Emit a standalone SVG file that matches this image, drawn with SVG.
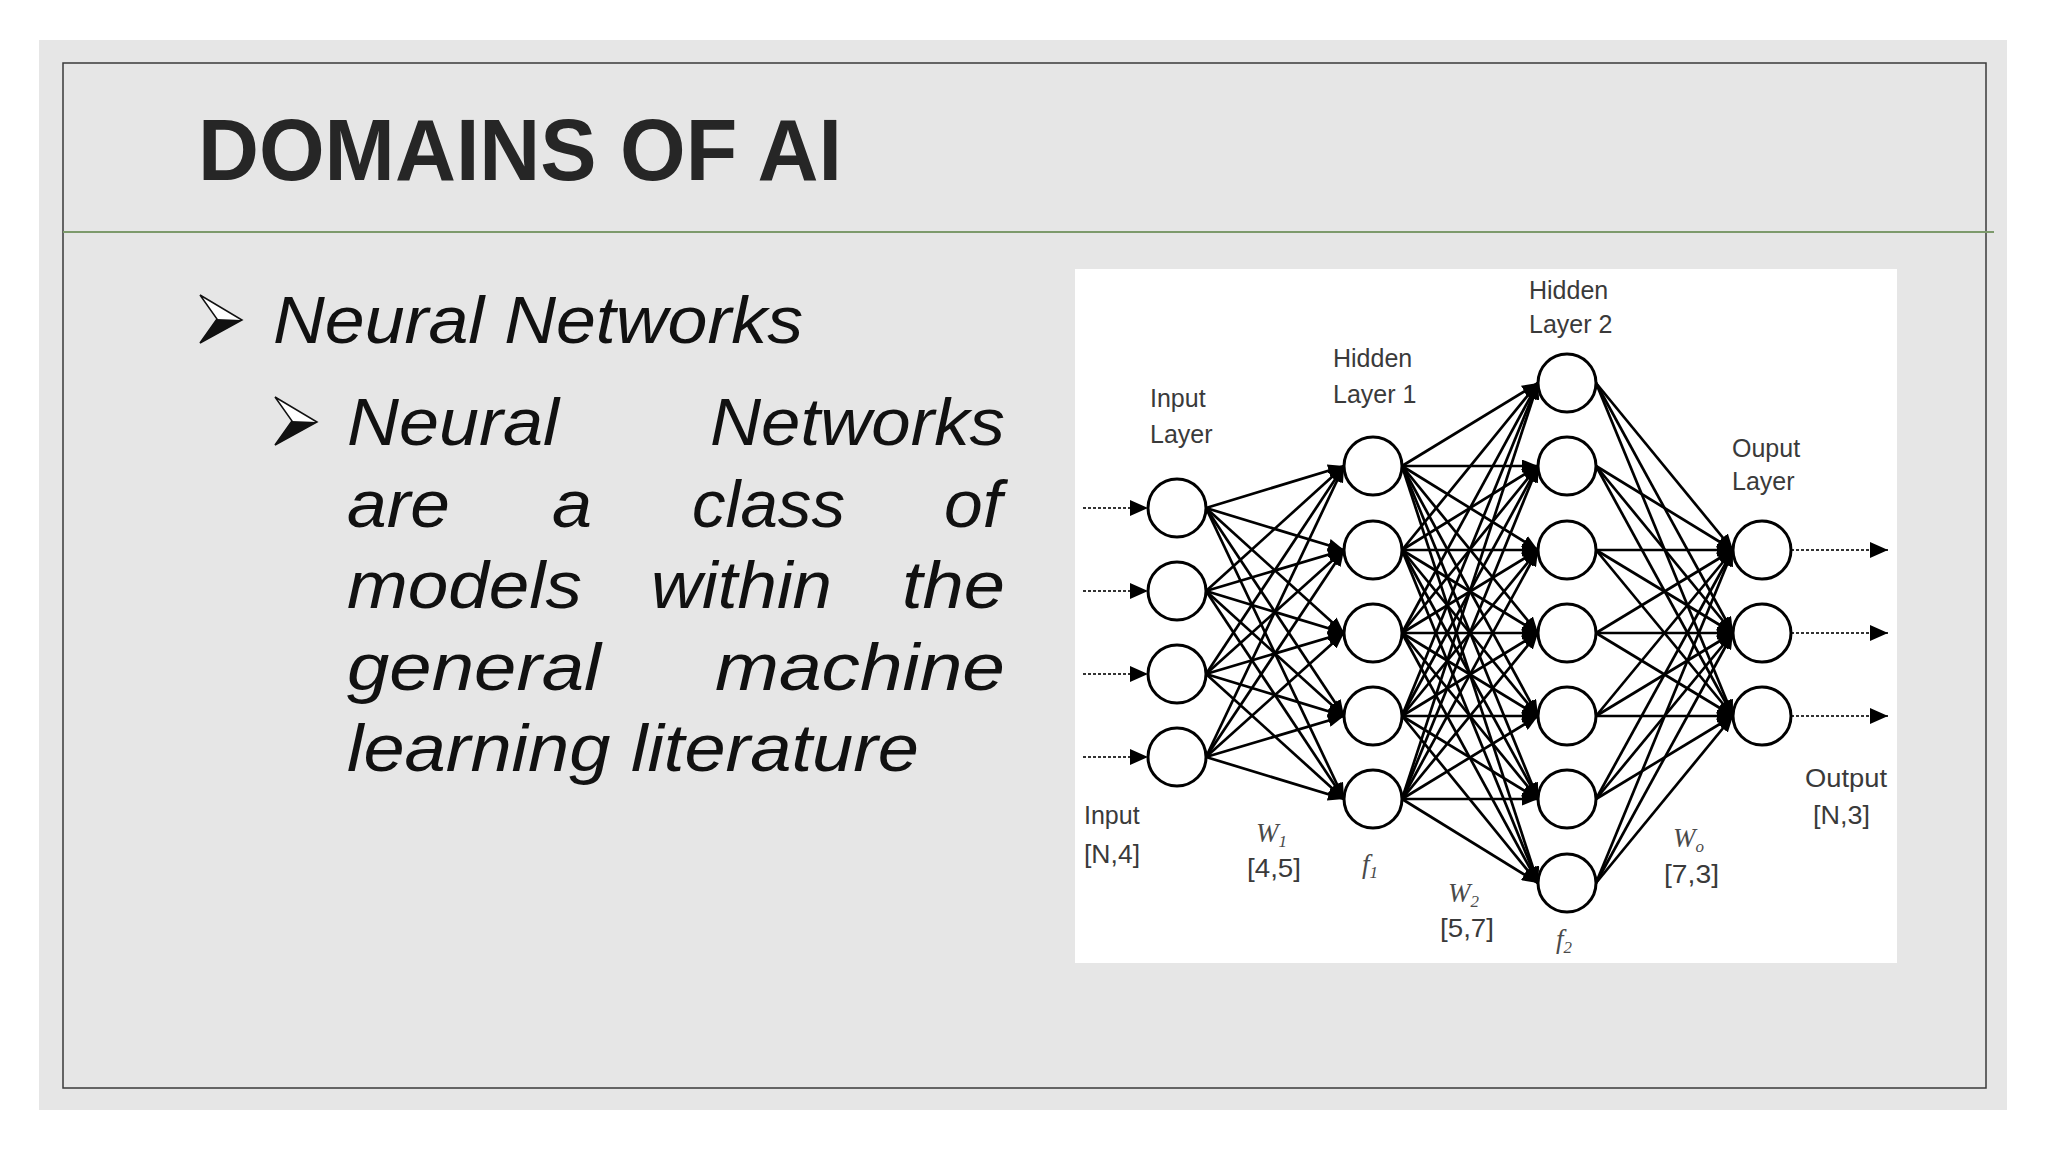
<svg xmlns="http://www.w3.org/2000/svg" width="2048" height="1152" viewBox="0 0 2048 1152">
<defs>
<style>
.body{font-family:"Liberation Sans",Arial,sans-serif;font-style:italic;font-size:66px;fill:#111}
.title{font-family:"Liberation Sans",Arial,sans-serif;font-weight:bold;font-size:88px;fill:#262626}
.lbl{font-family:"Liberation Sans",Arial,sans-serif;font-size:25px;fill:#3a3a3a}
.math{font-family:"Liberation Serif","Times New Roman",serif;font-style:italic;font-size:27px;fill:#4a4a4a}
.node circle{fill:#fff;stroke:#000;stroke-width:3}
.conn line{stroke:#000;stroke-width:2.7;marker-end:url(#ah)}
.io line{stroke:#333;stroke-width:2.2;stroke-dasharray:3 2;marker-end:url(#ah2)}
</style>
<marker id="ah" markerUnits="userSpaceOnUse" markerWidth="16" markerHeight="13" refX="16" refY="6.5" orient="auto">
<path d="M0,0 L16,6.5 L0,13 Z" fill="#000"/>
</marker>
<marker id="ah2" markerUnits="userSpaceOnUse" markerWidth="18" markerHeight="16" refX="18" refY="8" orient="auto">
<path d="M0,0 L18,8 L0,16 Z" fill="#000"/>
</marker>
</defs>
<rect x="0" y="0" width="2048" height="1152" fill="#fff"/>
<rect x="39" y="40" width="1968" height="1070" fill="#e6e6e6"/>
<rect x="63" y="63" width="1923" height="1025" fill="none" stroke="#3a3a3a" stroke-width="1.5"/>
<line x1="63" y1="232" x2="1994" y2="232" stroke="#7d9a6c" stroke-width="2"/>
<text class="title" x="198" y="180" textLength="644" lengthAdjust="spacingAndGlyphs">DOMAINS OF AI</text>

<g id="bullets">
<path d="M200,295 L242,320 L200,343 L217,319 Z" fill="#fff" stroke="#111" stroke-width="1.5"/>
<path d="M217,319 L242,320 L200,343 Z" fill="#111"/>
<path d="M275,397 L317,422 L275,445 L292,421 Z" fill="#fff" stroke="#111" stroke-width="1.5"/>
<path d="M292,421 L317,422 L275,445 Z" fill="#111"/>
</g>
<g id="text">
<text class="body" x="273" y="343" textLength="530" lengthAdjust="spacingAndGlyphs">Neural Networks</text>
<text class="body" x="347" y="445" textLength="212" lengthAdjust="spacingAndGlyphs">Neural</text>
<text class="body" x="710" y="445" textLength="295" lengthAdjust="spacingAndGlyphs">Networks</text>
<text class="body" x="347" y="527" textLength="103" lengthAdjust="spacingAndGlyphs">are</text>
<text class="body" x="552" y="527" textLength="40" lengthAdjust="spacingAndGlyphs">a</text>
<text class="body" x="692" y="527" textLength="153" lengthAdjust="spacingAndGlyphs">class</text>
<text class="body" x="944" y="527" textLength="58" lengthAdjust="spacingAndGlyphs">of</text>
<text class="body" x="347" y="608" textLength="235" lengthAdjust="spacingAndGlyphs">models</text>
<text class="body" x="651" y="608" textLength="181" lengthAdjust="spacingAndGlyphs">within</text>
<text class="body" x="902" y="608" textLength="103" lengthAdjust="spacingAndGlyphs">the</text>
<text class="body" x="347" y="690" textLength="254" lengthAdjust="spacingAndGlyphs">general</text>
<text class="body" x="715" y="690" textLength="290" lengthAdjust="spacingAndGlyphs">machine</text>
<text class="body" x="347" y="771" textLength="572" lengthAdjust="spacingAndGlyphs">learning literature</text>
</g>

<g id="nn-image">
<rect x="1075" y="269" width="822" height="694" fill="#fff"/>
</g>

<g id="connectors">
<g class="io">
<line x1="1083" y1="508" x2="1148" y2="508"/>
<line x1="1083" y1="591" x2="1148" y2="591"/>
<line x1="1083" y1="674" x2="1148" y2="674"/>
<line x1="1083" y1="757" x2="1148" y2="757"/>
<line x1="1791" y1="550" x2="1888" y2="550"/>
<line x1="1791" y1="633" x2="1888" y2="633"/>
<line x1="1791" y1="716" x2="1888" y2="716"/>
</g>
<g class="conn">
<line x1="1206" y1="508" x2="1344" y2="466"/><line x1="1206" y1="508" x2="1344" y2="550"/><line x1="1206" y1="508" x2="1344" y2="633"/><line x1="1206" y1="508" x2="1344" y2="716"/><line x1="1206" y1="508" x2="1344" y2="799"/>
<line x1="1206" y1="591" x2="1344" y2="466"/><line x1="1206" y1="591" x2="1344" y2="550"/><line x1="1206" y1="591" x2="1344" y2="633"/><line x1="1206" y1="591" x2="1344" y2="716"/><line x1="1206" y1="591" x2="1344" y2="799"/>
<line x1="1206" y1="674" x2="1344" y2="466"/><line x1="1206" y1="674" x2="1344" y2="550"/><line x1="1206" y1="674" x2="1344" y2="633"/><line x1="1206" y1="674" x2="1344" y2="716"/><line x1="1206" y1="674" x2="1344" y2="799"/>
<line x1="1206" y1="757" x2="1344" y2="466"/><line x1="1206" y1="757" x2="1344" y2="550"/><line x1="1206" y1="757" x2="1344" y2="633"/><line x1="1206" y1="757" x2="1344" y2="716"/><line x1="1206" y1="757" x2="1344" y2="799"/>

<line x1="1402" y1="466" x2="1538" y2="383"/><line x1="1402" y1="466" x2="1538" y2="466"/><line x1="1402" y1="466" x2="1538" y2="550"/><line x1="1402" y1="466" x2="1538" y2="633"/><line x1="1402" y1="466" x2="1538" y2="716"/><line x1="1402" y1="466" x2="1538" y2="799"/><line x1="1402" y1="466" x2="1538" y2="883"/>
<line x1="1402" y1="550" x2="1538" y2="383"/><line x1="1402" y1="550" x2="1538" y2="466"/><line x1="1402" y1="550" x2="1538" y2="550"/><line x1="1402" y1="550" x2="1538" y2="633"/><line x1="1402" y1="550" x2="1538" y2="716"/><line x1="1402" y1="550" x2="1538" y2="799"/><line x1="1402" y1="550" x2="1538" y2="883"/>
<line x1="1402" y1="633" x2="1538" y2="383"/><line x1="1402" y1="633" x2="1538" y2="466"/><line x1="1402" y1="633" x2="1538" y2="550"/><line x1="1402" y1="633" x2="1538" y2="633"/><line x1="1402" y1="633" x2="1538" y2="716"/><line x1="1402" y1="633" x2="1538" y2="799"/><line x1="1402" y1="633" x2="1538" y2="883"/>
<line x1="1402" y1="716" x2="1538" y2="383"/><line x1="1402" y1="716" x2="1538" y2="466"/><line x1="1402" y1="716" x2="1538" y2="550"/><line x1="1402" y1="716" x2="1538" y2="633"/><line x1="1402" y1="716" x2="1538" y2="716"/><line x1="1402" y1="716" x2="1538" y2="799"/><line x1="1402" y1="716" x2="1538" y2="883"/>
<line x1="1402" y1="799" x2="1538" y2="383"/><line x1="1402" y1="799" x2="1538" y2="466"/><line x1="1402" y1="799" x2="1538" y2="550"/><line x1="1402" y1="799" x2="1538" y2="633"/><line x1="1402" y1="799" x2="1538" y2="716"/><line x1="1402" y1="799" x2="1538" y2="799"/><line x1="1402" y1="799" x2="1538" y2="883"/>

<line x1="1596" y1="383" x2="1733" y2="550"/><line x1="1596" y1="383" x2="1733" y2="633"/><line x1="1596" y1="383" x2="1733" y2="716"/>
<line x1="1596" y1="466" x2="1733" y2="550"/><line x1="1596" y1="466" x2="1733" y2="633"/><line x1="1596" y1="466" x2="1733" y2="716"/>
<line x1="1596" y1="550" x2="1733" y2="550"/><line x1="1596" y1="550" x2="1733" y2="633"/><line x1="1596" y1="550" x2="1733" y2="716"/>
<line x1="1596" y1="633" x2="1733" y2="550"/><line x1="1596" y1="633" x2="1733" y2="633"/><line x1="1596" y1="633" x2="1733" y2="716"/>
<line x1="1596" y1="716" x2="1733" y2="550"/><line x1="1596" y1="716" x2="1733" y2="633"/><line x1="1596" y1="716" x2="1733" y2="716"/>
<line x1="1596" y1="799" x2="1733" y2="550"/><line x1="1596" y1="799" x2="1733" y2="633"/><line x1="1596" y1="799" x2="1733" y2="716"/>
<line x1="1596" y1="883" x2="1733" y2="550"/><line x1="1596" y1="883" x2="1733" y2="633"/><line x1="1596" y1="883" x2="1733" y2="716"/>
</g>
</g>

<g id="input-layer" class="node">
<circle cx="1177" cy="508" r="29"/><circle cx="1177" cy="591" r="29"/><circle cx="1177" cy="674" r="29"/><circle cx="1177" cy="757" r="29"/>
</g>
<g id="hidden-layer-1" class="node">
<circle cx="1373" cy="466" r="29"/><circle cx="1373" cy="550" r="29"/><circle cx="1373" cy="633" r="29"/><circle cx="1373" cy="716" r="29"/><circle cx="1373" cy="799" r="29"/>
</g>
<g id="hidden-layer-2" class="node">
<circle cx="1567" cy="383" r="29"/><circle cx="1567" cy="466" r="29"/><circle cx="1567" cy="550" r="29"/><circle cx="1567" cy="633" r="29"/><circle cx="1567" cy="716" r="29"/><circle cx="1567" cy="799" r="29"/><circle cx="1567" cy="883" r="29"/>
</g>
<g id="output-layer" class="node">
<circle cx="1762" cy="550" r="29"/><circle cx="1762" cy="633" r="29"/><circle cx="1762" cy="716" r="29"/>
</g>

<g id="labels">
<text class="lbl" x="1150" y="407">Input</text>
<text class="lbl" x="1150" y="443">Layer</text>
<text class="lbl" x="1333" y="367">Hidden</text>
<text class="lbl" x="1333" y="403">Layer 1</text>
<text class="lbl" x="1529" y="299">Hidden</text>
<text class="lbl" x="1529" y="333">Layer 2</text>
<text class="lbl" x="1732" y="457">Ouput</text>
<text class="lbl" x="1732" y="490">Layer</text>
<text class="lbl" x="1084" y="824">Input</text>
<text class="lbl" x="1084" y="863" textLength="56" lengthAdjust="spacingAndGlyphs">[N,4]</text>
<text class="math" x="1256" y="842">W<tspan font-size="17" dy="5">1</tspan></text>
<text class="lbl" x="1247" y="877" textLength="54" lengthAdjust="spacingAndGlyphs">[4,5]</text>
<text class="math" x="1362" y="873">f<tspan font-size="17" dy="5">1</tspan></text>
<text class="math" x="1448" y="902">W<tspan font-size="17" dy="5">2</tspan></text>
<text class="lbl" x="1440" y="937" textLength="54" lengthAdjust="spacingAndGlyphs">[5,7]</text>
<text class="math" x="1556" y="948">f<tspan font-size="17" dy="5">2</tspan></text>
<text class="math" x="1673" y="847">W<tspan font-size="17" dy="5">o</tspan></text>
<text class="lbl" x="1664" y="883" textLength="55" lengthAdjust="spacingAndGlyphs">[7,3]</text>
<text class="lbl" x="1805" y="787" textLength="82" lengthAdjust="spacingAndGlyphs">Output</text>
<text class="lbl" x="1813" y="824" textLength="57" lengthAdjust="spacingAndGlyphs">[N,3]</text>
</g>
</svg>
